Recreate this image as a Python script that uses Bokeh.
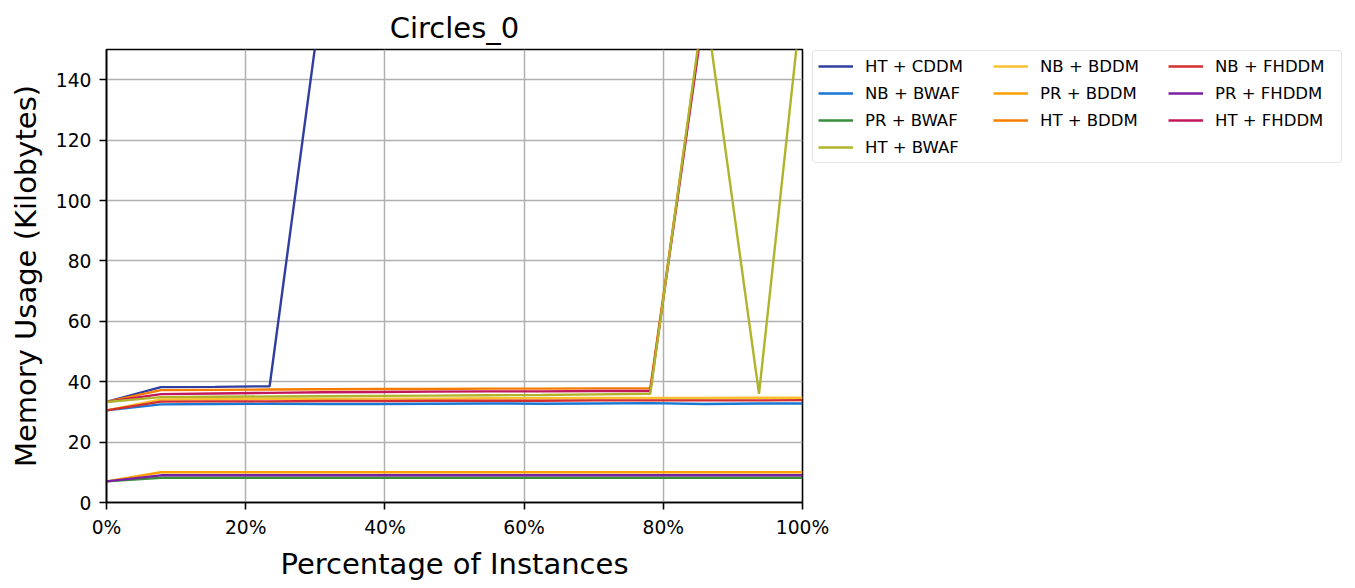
from bokeh.plotting import figure
from bokeh.models import Range1d, FixedTicker, Legend, LegendItem
from bokeh.embed import file_html
from bokeh.resources import INLINE

# ---------------- data ----------------
x_pct = [0, 7.8125, 15.625, 23.4375, 31.25, 39.0625, 46.875, 54.6875,
         62.5, 70.3125, 78.125, 85.9375, 93.75, 100]

ht_cddm = [33.3, 38.2, 38.3, 38.5, 173, 230, 290, 350, 410, 470, 530, 590, 650, 710]
nb_bwaf = [30.5, 32.5, 32.6, 32.7, 32.6, 32.6, 32.7, 32.8, 32.7, 32.8, 32.9, 32.6, 32.8, 32.8]
pr_bwaf = [7.0, 8.2, 8.2, 8.2, 8.2, 8.2, 8.2, 8.2, 8.2, 8.2, 8.2, 8.2, 8.2, 8.2]
ht_bwaf = [33.3, 34.9, 35.0, 35.1, 35.2, 35.3, 35.4, 35.5, 35.6, 35.8, 36.0, 167, 36.0, 169]
nb_bddm = [30.5, 34.1, 34.2, 34.3, 34.3, 34.4, 34.4, 34.5, 34.5, 34.6, 34.6, 34.6, 34.7, 34.7]
pr_bddm = [7.0, 10.0, 10.0, 10.0, 10.0, 10.0, 10.0, 10.0, 10.0, 10.0, 10.0, 10.0, 10.0, 10.0]
ht_bddm = [33.3, 37.2, 37.3, 37.4, 37.5, 37.6, 37.6, 37.7, 37.7, 37.8, 37.8, 165, 190, 200]
nb_fhddm = [30.5, 33.4, 33.5, 33.5, 33.6, 33.6, 33.7, 33.7, 33.7, 33.8, 33.8, 33.8, 33.8, 33.9]
pr_fhddm = [7.0, 9.0, 9.0, 9.0, 9.0, 9.0, 9.0, 9.0, 9.0, 9.0, 9.0, 9.0, 9.0, 9.0]
ht_fhddm = [33.3, 35.9, 36.1, 36.3, 36.5, 36.6, 36.7, 36.8, 36.8, 36.9, 36.9, 164, 185, 195]

series_names = ["HT + CDDM", "NB + BWAF", "PR + BWAF", "HT + BWAF", "NB + BDDM",
                "PR + BDDM", "HT + BDDM", "NB + FHDDM", "PR + FHDDM", "HT + FHDDM"]
series_values = [ht_cddm, nb_bwaf, pr_bwaf, ht_bwaf, nb_bddm,
                 pr_bddm, ht_bddm, nb_fhddm, pr_fhddm, ht_fhddm]
series_colors = ["#303f9f", "#1976d2", "#388e3c", "#afb42b", "#fbc02d",
                 "#ffa000", "#f57c00", "#d32f2f", "#7b1fa2", "#c2185b"]

x_ticks = [0, 20, 40, 60, 80, 100]
x_tick_labels = ["0%", "20%", "40%", "60%", "80%", "100%"]
y_ticks = [0, 20, 40, 60, 80, 100, 120, 140]

title_text = "Circles_0"
x_label = "Percentage of Instances"
y_label = "Memory Usage (Kilobytes)"

FONT = "DejaVu Sans"

# ---------------- figure ----------------
p = figure(frame_width=696, frame_height=453, output_backend="svg", toolbar_location=None,
           x_range=Range1d(0, 100), y_range=Range1d(0, 150),
           min_border_left=106, min_border_right=10,
           min_border_top=49, min_border_bottom=86,
           title=title_text)

p.title.text_font = FONT
p.title.text_font_size = "29px"
p.title.text_font_style = "normal"
p.title.align = "center"
p.title.text_color = "black"

# draw order: olive drawn last so it sits on top of the rise
draw_order = [0, 1, 2, 4, 5, 6, 7, 8, 9, 3]
renderers = {}
for i in draw_order:
    r = p.line(x_pct, series_values[i], line_color=series_colors[i], line_width=2.4)
    renderers[i] = r

# legend: row-major so that columns match the reference
legend_order = [0, 4, 7,
                1, 5, 8,
                2, 6, 9,
                3]
items = [LegendItem(label=series_names[i], renderers=[renderers[i]]) for i in legend_order]
legend = Legend(items=items, orientation="horizontal", ncols=3,
                location=(10, 339))
legend.label_text_font = FONT
legend.label_text_font_size = "16.5px"
legend.label_text_color = "black"
legend.glyph_width = 35
legend.glyph_height = 20
legend.label_height = 20
legend.label_width = 121
legend.label_standoff = 12
legend.spacing = 7
legend.padding = 5
legend.margin = 10
legend.border_line_color = "#cccccc"
legend.border_line_width = 1.5
legend.border_radius = 4
legend.background_fill_color = "white"
legend.background_fill_alpha = 0.85
legend.click_policy = "none"
p.add_layout(legend, "right")

# axes
for ax in (p.xaxis[0], p.yaxis[0]):
    ax.axis_line_color = "black"
    ax.axis_line_width = 1.6
    ax.major_tick_line_color = "black"
    ax.major_tick_line_width = 1.6
    ax.major_tick_out = 7
    ax.major_tick_in = 0
    ax.minor_tick_line_color = None
    ax.major_label_text_font = FONT
    ax.major_label_text_font_size = "18.7px"
    ax.major_label_text_color = "black"
    ax.axis_label_text_font = FONT
    ax.axis_label_text_font_size = "29px"
    ax.axis_label_text_font_style = "normal"
    ax.axis_label_text_color = "black"

p.xaxis.ticker = FixedTicker(ticks=x_ticks)
p.xaxis.major_label_overrides = {t: l for t, l in zip(x_ticks, x_tick_labels)}
p.yaxis.ticker = FixedTicker(ticks=y_ticks)
p.xaxis.axis_label = x_label
p.yaxis.axis_label = y_label
p.xaxis.major_label_standoff = 7
p.xaxis.axis_label_standoff = 6
p.yaxis.major_label_standoff = 8
p.yaxis.axis_label_standoff = 10

p.xgrid.grid_line_color = "#b0b0b0"
p.ygrid.grid_line_color = "#b0b0b0"
p.xgrid.grid_line_width = 1.5
p.ygrid.grid_line_width = 1.5

p.outline_line_color = "black"
p.outline_line_width = 1.6
p.outline_line_alpha = 1.0
p.background_fill_color = "white"
p.border_fill_color = "white"

open("out.html", "w").write(file_html(p, INLINE))
